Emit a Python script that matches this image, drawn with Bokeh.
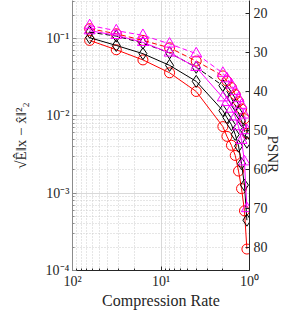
import math
from bokeh.plotting import figure
from bokeh.models import Range1d, LinearAxis, LinearScale, FixedTicker, CustomJSTickFormatter
from bokeh.embed import file_html
from bokeh.resources import INLINE

# ---- data ----
compression_rate = [64, 32, 16, 8, 4, 2, 1.8, 1.6, 1.45, 1.33, 1.23, 1.14, 1.07]

psnr_red_dashed = [23.9, 25.2, 26.9, 28.8, 32.2, 36.0, 37.3, 39.0, 40.8, 42.6, 44.5, 47.0, 50.7]
psnr_black_dashed = [24.8, 25.8, 27.6, 30.1, 33.8, 38.5, 40.0, 41.8, 43.5, 45.5, 47.5, 50.0, 53.0]
psnr_magenta_dashed = [23.1, 24.4, 25.6, 27.8, 30.3, 35.3, 36.7, 38.3, 40.0, 41.8, 43.5, 46.0, 50.0]
psnr_red_solid = [26.9, 29.3, 31.9, 35.2, 40.0, 49.0, 51.5, 53.8, 56.4, 60.4, 64.9, 70.6, 80.4]
psnr_black_solid = [26.2, 28.2, 30.3, 33.3, 37.4, 44.9, 46.7, 48.5, 51.0, 54.0, 58.5, 64.0, 73.0]
psnr_magenta_solid = [24.4, 25.6, 27.4, 30.1, 33.8, 41.6, 42.8, 44.5, 46.5, 49.0, 52.5, 58.0, 70.0]

xtick_values = [100, 10, 1]
xtick_labels = ["10²", "10¹", "10⁰"]
ytick_values = [1e-4, 1e-3, 1e-2, 1e-1]
ytick_labels = ["10⁻⁴", "10⁻³", "10⁻²", "10⁻¹"]
psnr_ticks = [20, 30, 40, 50, 60, 70, 80]

x_label = "Compression Rate"
y_label = "√Ê‖x − x̂‖²₂"
y2_label = "PSNR"

FONT = "Liberation Serif"

p = figure(width=291, height=311, x_axis_type="log", y_axis_type="log",
           x_range=Range1d(100, 1), y_range=Range1d(1e-4, 0.31),
           output_backend="svg", toolbar_location=None,
           min_border_left=72, min_border_right=37, min_border_top=0,
           min_border_bottom=41)
p.extra_y_ranges = {"psnr": Range1d(start=85.9, end=16.67)}
p.extra_y_scales = {"psnr": LinearScale()}
p.outline_line_color = None
p.background_fill_color = "white"

fmt_code = """
for (let i = 0; i < vals.length; i++) {
  if (Math.abs(Math.log10(vals[i]) - Math.log10(tick)) < 1e-6) return labs[i];
}
return "";
"""

# x axis
xa = p.xaxis[0]
xa.ticker = FixedTicker(ticks=xtick_values,
                        minor_ticks=[m * 10 ** e for e in range(0, 2) for m in range(2, 10)])
xa.formatter = CustomJSTickFormatter(args=dict(vals=xtick_values, labs=xtick_labels), code=fmt_code)
xa.axis_label = x_label

# left y axis
ya = p.yaxis[0]
ya.ticker = FixedTicker(ticks=ytick_values,
                        minor_ticks=[m * 10 ** e for e in range(-4, 0) for m in range(2, 10)])
ya.formatter = CustomJSTickFormatter(args=dict(vals=ytick_values, labs=ytick_labels), code=fmt_code)
ya.axis_label = y_label

# right axis
yr = LinearAxis(y_range_name="psnr", ticker=FixedTicker(ticks=psnr_ticks), axis_label=y2_label)
p.add_layout(yr, "right")
yr.axis_label_orientation = -math.pi / 2

for ax in (xa, ya, yr):
    ax.major_label_text_font = FONT
    ax.major_label_text_font_size = "14px"
    ax.major_label_text_color = "#262626"
    ax.axis_label_text_font = FONT
    ax.axis_label_text_font_style = "normal"
    ax.axis_label_text_font_size = "16px"
    ax.axis_label_text_color = "#262626"
    ax.major_tick_in = 4
    ax.major_tick_out = 0
    ax.minor_tick_in = 2
    ax.minor_tick_out = 0
    ax.axis_line_color = "#262626"
    ax.major_tick_line_color = "#262626"
    ax.minor_tick_line_color = "#262626"

ya.axis_line_color = "#8c8c8c"
ya.major_tick_line_color = "#8c8c8c"
ya.minor_tick_line_color = "#8c8c8c"
ya.major_label_standoff = 3
ya.axis_label_standoff = 14
ya.axis_label_text_font_size = "15px"
xa.major_label_standoff = 3
xa.axis_label_standoff = 0
yr.major_label_standoff = 4
yr.axis_label_standoff = 2
yr.axis_label_text_font_size = "15px"
yr.minor_tick_line_color = None

for g in (p.xgrid[0], p.ygrid[0]):
    g.grid_line_color = "#d9d9d9"
    g.grid_line_width = 1
    g.minor_grid_line_color = "#cccccc"
    g.minor_grid_line_dash = "1 2"
    g.minor_grid_line_width = 1

series = [
    (psnr_red_dashed, "#ff0000", "circle", "dashed", 10),
    (psnr_black_dashed, "#000000", "diamond", "dashed", 12),
    (psnr_magenta_dashed, "#ff00ff", "triangle", "dashed", 11),
    (psnr_red_solid, "#ff0000", "circle", "solid", 10),
    (psnr_black_solid, "#000000", "diamond", "solid", 12),
    (psnr_magenta_solid, "#ff00ff", "triangle", "solid", 11),
]
for vals, col, mk, dash, sz in series:
    ld = "5 3" if dash == "dashed" else "solid"
    p.line(compression_rate, vals, y_range_name="psnr", line_color=col,
           line_width=1, line_dash=ld)
    p.scatter(compression_rate, vals, y_range_name="psnr", marker=mk, size=sz,
              line_color=col, fill_color=None, line_width=1)

open("out.html", "w").write(file_html(p, INLINE))
